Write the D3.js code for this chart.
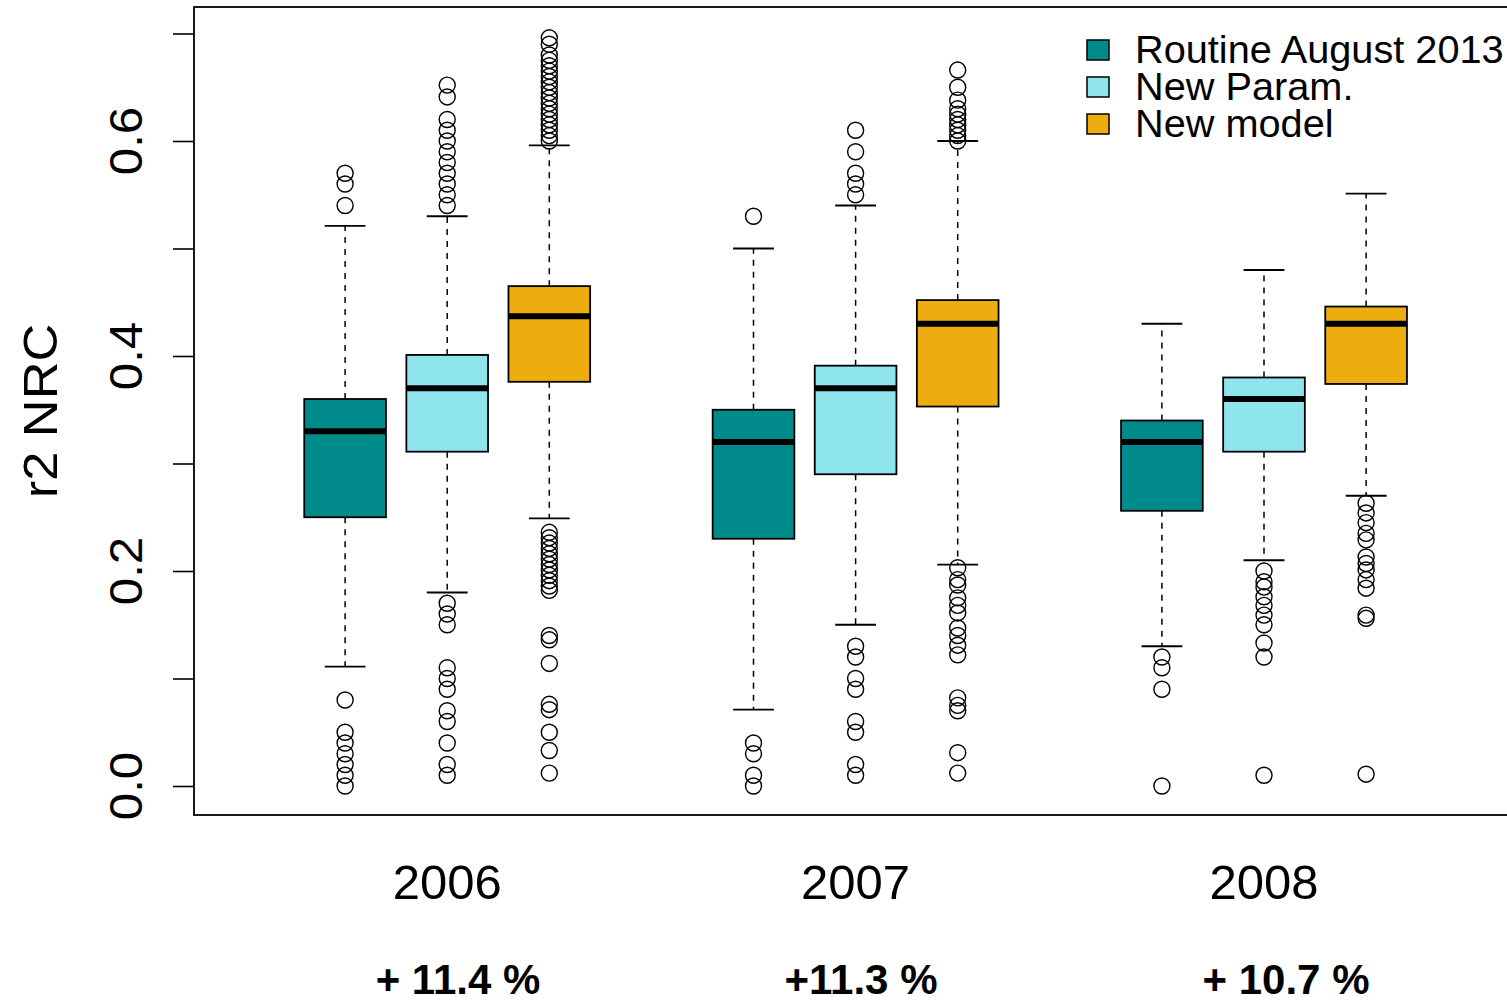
<!DOCTYPE html>
<html>
<head>
<meta charset="utf-8">
<script src="https://cdn.jsdelivr.net/npm/d3@7"></script>
<style>
  html, body { margin: 0; padding: 0; background: #fff; }
  svg { display: block; }
  text { font-family: "Liberation Sans", Arial, sans-serif; fill: #000; }
</style>
</head>
<body>
<svg id="chart" width="1507" height="1000"></svg>
<script>
// Years and model variants
const years = ["2006", "2007", "2008"];
const seriesNames = ["Routine August 2013", "New Param.", "New model"];
const seriesColors = ["#008B8B", "#8EE5EE", "#EEAD0E"];
const gains = ["+ 11.4 %", "+11.3 %", "+ 10.7 %"];
const yTicks = [0, 0.1, 0.2, 0.3, 0.4, 0.5, 0.6, 0.7];
const yLabels = [0, 0.2, 0.4, 0.6];

// Five-number summaries per year: [lower whisker, Q1, median, Q3, upper whisker]
const routineStats = [
  [0.111, 0.250, 0.330, 0.360, 0.521],
  [0.071, 0.230, 0.320, 0.350, 0.500],
  [0.130, 0.256, 0.320, 0.340, 0.430]
];
const newParamStats = [
  [0.180, 0.311, 0.370, 0.401, 0.530],
  [0.150, 0.290, 0.370, 0.391, 0.540],
  [0.210, 0.311, 0.360, 0.380, 0.480]
];
const newModelStats = [
  [0.249, 0.376, 0.437, 0.465, 0.596],
  [0.206, 0.353, 0.430, 0.452, 0.600],
  [0.270, 0.374, 0.430, 0.446, 0.551]
];

// Outliers per year
const routineOut = [
  [0.57, 0.56, 0.54, 0.08, 0.05, 0.04, 0.03, 0.02, 0.01, 0.0],
  [0.53, 0.04, 0.03, 0.01, 0.0],
  [0.12, 0.11, 0.09, 0.0]
];
const newParamOut = [
  [0.652, 0.641, 0.62, 0.61, 0.60, 0.59, 0.58, 0.57, 0.56, 0.55, 0.54,
   0.17, 0.16, 0.15, 0.11, 0.10, 0.09, 0.07, 0.06, 0.04, 0.02, 0.01],
  [0.61, 0.59, 0.57, 0.56, 0.55,
   0.13, 0.12, 0.10, 0.09, 0.06, 0.05, 0.02, 0.01],
  [0.20, 0.19, 0.185, 0.176, 0.168, 0.159, 0.15, 0.133, 0.12, 0.01]
];
const newModelOut = [
  [0.696, 0.69, 0.68, 0.675, 0.67, 0.665, 0.66, 0.655, 0.65, 0.645, 0.64, 0.635,
   0.63, 0.625, 0.62, 0.615, 0.61, 0.605, 0.60,
   0.236, 0.231, 0.226, 0.221, 0.216, 0.211, 0.206, 0.201, 0.196, 0.191, 0.186, 0.182,
   0.14, 0.136, 0.114, 0.076, 0.071, 0.05, 0.033, 0.012],
  [0.666, 0.65, 0.638, 0.63, 0.625, 0.62, 0.615, 0.61, 0.605, 0.60,
   0.203, 0.192, 0.187, 0.175, 0.168, 0.161, 0.147, 0.14, 0.131, 0.122,
   0.082, 0.075, 0.07, 0.031, 0.012],
  [0.263, 0.254, 0.245, 0.235, 0.229, 0.213, 0.207, 0.201, 0.192, 0.184,
   0.159, 0.156, 0.011]
];

const allStats = [routineStats, newParamStats, newModelStats];
const allOut = [routineOut, newParamOut, newModelOut];

const svg = d3.select("#chart");

// Plot region (right border runs past the canvas edge)
const plot = { left: 194, top: 7, right: 1510, bottom: 815 };

// Box slots: 1,2,3 | 5,6,7 | 9,10,11
const x = d3.scaleLinear().domain([-0.48, 12.38]).range([194, 1507]);
const y = d3.scaleLinear().domain([0, 0.7]).range([786, 33.5]);
const unit = x(1) - x(0);
const boxW = 0.8 * unit;
const capW = boxW / 2;

const boxes = [];
years.forEach((yr, g) => {
  seriesNames.forEach((nm, s) => {
    const st = allStats[s][g];
    boxes.push({
      pos: g * 4 + s + 1,
      color: seriesColors[s],
      lo: st[0], q1: st[1], med: st[2], q3: st[3], hi: st[4],
      out: allOut[s][g]
    });
  });
});

const gBoxes = svg.append("g");

boxes.forEach(b => {
  const cx = x(b.pos);
  const g = gBoxes.append("g");
  // whiskers
  g.append("line")
    .attr("x1", cx).attr("x2", cx)
    .attr("y1", y(b.q3)).attr("y2", y(b.hi))
    .attr("stroke", "#000").attr("stroke-width", 1.5).attr("stroke-dasharray", "6,6");
  g.append("line")
    .attr("x1", cx).attr("x2", cx)
    .attr("y1", y(b.q1)).attr("y2", y(b.lo))
    .attr("stroke", "#000").attr("stroke-width", 1.5).attr("stroke-dasharray", "6,6");
  // caps
  [b.hi, b.lo].forEach(v => {
    g.append("line")
      .attr("x1", cx - capW / 2).attr("x2", cx + capW / 2)
      .attr("y1", y(v)).attr("y2", y(v))
      .attr("stroke", "#000").attr("stroke-width", 1.8);
  });
  // box
  g.append("rect")
    .attr("x", cx - boxW / 2).attr("width", boxW)
    .attr("y", y(b.q3)).attr("height", y(b.q1) - y(b.q3))
    .attr("fill", b.color).attr("stroke", "#000").attr("stroke-width", 1.8);
  // median
  g.append("line")
    .attr("x1", cx - boxW / 2).attr("x2", cx + boxW / 2)
    .attr("y1", y(b.med)).attr("y2", y(b.med))
    .attr("stroke", "#000").attr("stroke-width", 6);
  // outliers
  g.selectAll("circle").data(b.out).join("circle")
    .attr("cx", cx).attr("cy", d => y(d)).attr("r", 8)
    .attr("fill", "none").attr("stroke", "#000").attr("stroke-width", 1.4);
});

// Frame
svg.append("rect")
  .attr("x", plot.left).attr("y", plot.top)
  .attr("width", plot.right - plot.left).attr("height", plot.bottom - plot.top)
  .attr("fill", "none").attr("stroke", "#000").attr("stroke-width", 1.8);

// Y axis
const yAxis = svg.append("g").attr("transform", `translate(${plot.left},0)`)
  .call(d3.axisLeft(y).tickValues(yTicks).tickSize(21).tickFormat(""));
yAxis.select(".domain").remove();
yAxis.selectAll(".tick line").attr("stroke", "#000").attr("stroke-width", 1.6);

svg.append("g").selectAll("text").data(yLabels).join("text")
  .attr("transform", d => `translate(142,${y(d)}) rotate(-90) scale(1.07,1)`)
  .attr("text-anchor", "middle")
  .style("font-size", "46px")
  .text(d => d.toFixed(1));

svg.append("text")
  .attr("transform", "translate(57,411) rotate(-90) scale(1.09,1)")
  .attr("text-anchor", "middle")
  .style("font-size", "48px")
  .text("r2 NRC");

// Year labels
years.forEach((yr, g) => {
  svg.append("text")
    .attr("x", x(g * 4 + 2)).attr("y", 899)
    .attr("text-anchor", "middle")
    .style("font-size", "49px")
    .text(yr);
});

// Improvement labels
const gainX = [458, 861, 1286];
gains.forEach((t, g) => {
  svg.append("text")
    .attr("x", gainX[g]).attr("y", 994)
    .attr("text-anchor", "middle")
    .style("font-size", "42px").style("font-weight", "bold")
    .text(t);
});

// Legend
const legend = svg.append("g").attr("transform", "translate(1087,40)");
seriesNames.forEach((nm, i) => {
  legend.append("rect")
    .attr("x", 0).attr("y", i * 37).attr("width", 22).attr("height", 20)
    .attr("fill", seriesColors[i]).attr("stroke", "#000").attr("stroke-width", 1.5);
  legend.append("text")
    .attr("transform", `translate(48,${i * 37 + 23}) scale(1.045,1)`)
    .style("font-size", "38px")
    .text(nm);
});
</script>
</body>
</html>
